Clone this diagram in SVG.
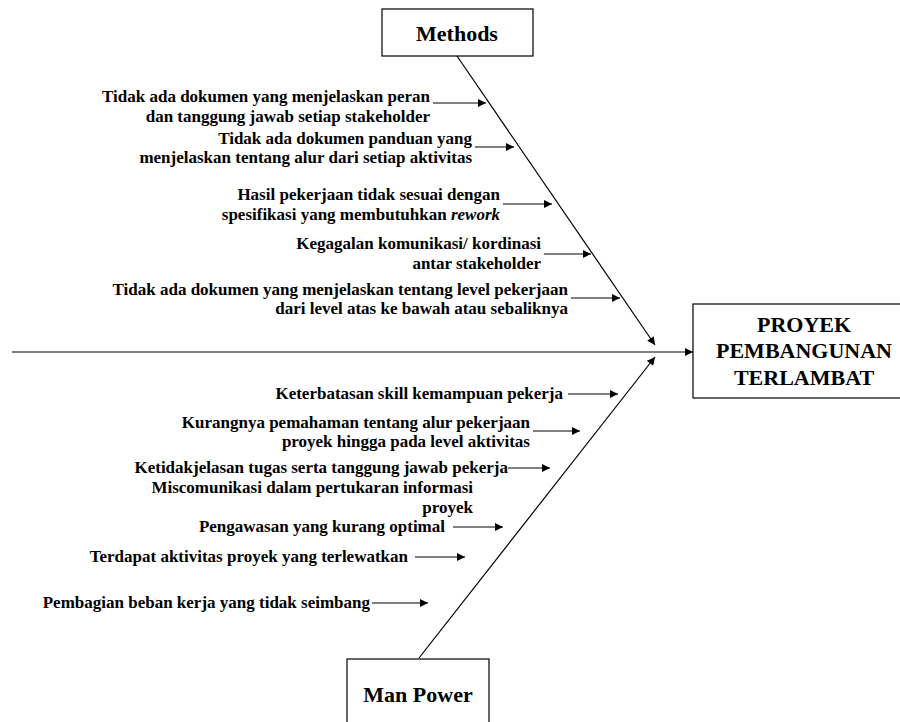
<svg xmlns="http://www.w3.org/2000/svg" width="900" height="722" viewBox="0 0 900 722">
<defs>
<marker id="ah" viewBox="0 0 10 10" refX="10" refY="5" markerWidth="9" markerHeight="8" markerUnits="userSpaceOnUse" orient="auto">
<path d="M0,0 L10,5 L0,10 z" fill="#000"/>
</marker>
<style>
.box{fill:#fff;stroke:#000;stroke-width:1.2}
.title{font-weight:bold;font-size:22px;fill:#000;text-anchor:middle}
.lbl{font-weight:bold;font-size:17px;fill:#000;text-anchor:end}
.ln{stroke:#000;stroke-width:1.2;fill:none;marker-end:url(#ah)}
</style>
</defs>
<rect width="900" height="722" fill="#fff"/>
<g id="connectors">
<line class="ln" x1="12" y1="352" x2="693" y2="352"/>
<line class="ln" x1="457" y1="56" x2="655" y2="345"/>
<line class="ln" x1="419" y1="658" x2="655" y2="357"/>
<line class="ln" x1="433" y1="103" x2="486" y2="103"/>
<line class="ln" x1="475" y1="147" x2="514" y2="147"/>
<line class="ln" x1="503" y1="204" x2="552" y2="204"/>
<line class="ln" x1="544" y1="254" x2="591" y2="254"/>
<line class="ln" x1="571" y1="298" x2="620" y2="298"/>
<line class="ln" x1="568" y1="394" x2="618" y2="394"/>
<line class="ln" x1="533" y1="431" x2="580" y2="431"/>
<line class="ln" x1="508" y1="468" x2="550" y2="468"/>
<line class="ln" x1="453" y1="527" x2="503" y2="527"/>
<line class="ln" x1="415" y1="557" x2="465" y2="557"/>
<line class="ln" x1="372" y1="603" x2="428" y2="603"/>
</g>
<g font-family="'Liberation Serif', 'Times New Roman', Tinos, 'DejaVu Serif', serif">
<g id="methods">
<rect class="box" x="382" y="9" width="151" height="47"/>
<text class="title" x="457" y="41">Methods</text>
</g>
<g id="manpower">
<rect class="box" x="347" y="659" width="142" height="80"/>
<text class="title" x="418" y="702">Man Power</text>
</g>
<g id="effect">
<rect class="box" x="693" y="304" width="222" height="94"/>
<text class="title" x="804" y="332">PROYEK</text>
<text class="title" x="804" y="358">PEMBANGUNAN</text>
<text class="title" x="804" y="385">TERLAMBAT</text>
</g>
<g id="m1"><text class="lbl" x="430" y="102">Tidak ada dokumen yang menjelaskan peran</text><text class="lbl" x="430" y="122">dan tanggung jawab setiap stakeholder</text></g>
<g id="m2"><text class="lbl" x="472" y="144">Tidak ada dokumen panduan yang</text><text class="lbl" x="472" y="163">menjelaskan tentang alur dari setiap aktivitas</text></g>
<g id="m3"><text class="lbl" x="500" y="200">Hasil pekerjaan tidak sesuai dengan</text><text class="lbl" x="500" y="220">spesifikasi yang membutuhkan <tspan font-style="italic">rework</tspan></text></g>
<g id="m4"><text class="lbl" x="541" y="249">Kegagalan komunikasi/ kordinasi</text><text class="lbl" x="541" y="269">antar stakeholder</text></g>
<g id="m5"><text class="lbl" x="568" y="295">Tidak ada dokumen yang menjelaskan tentang level pekerjaan</text><text class="lbl" x="568" y="314">dari level atas ke bawah atau sebaliknya</text></g>
<g id="p1"><text class="lbl" x="563" y="399">Keterbatasan skill kemampuan pekerja</text></g>
<g id="p2"><text class="lbl" x="530" y="428">Kurangnya pemahaman tentang alur pekerjaan</text><text class="lbl" x="530" y="447">proyek hingga pada level aktivitas</text></g>
<g id="p3"><text class="lbl" x="508" y="473">Ketidakjelasan tugas serta tanggung jawab pekerja</text></g>
<g id="p4"><text class="lbl" x="473" y="493">Miscomunikasi dalam pertukaran informasi</text><text class="lbl" x="473" y="513">proyek</text></g>
<g id="p5"><text class="lbl" x="445" y="532">Pengawasan yang kurang optimal</text></g>
<g id="p6"><text class="lbl" x="408" y="562">Terdapat aktivitas proyek yang terlewatkan</text></g>
<g id="p7"><text class="lbl" x="370" y="608">Pembagian beban kerja yang tidak seimbang</text></g>
</g>
</svg>
